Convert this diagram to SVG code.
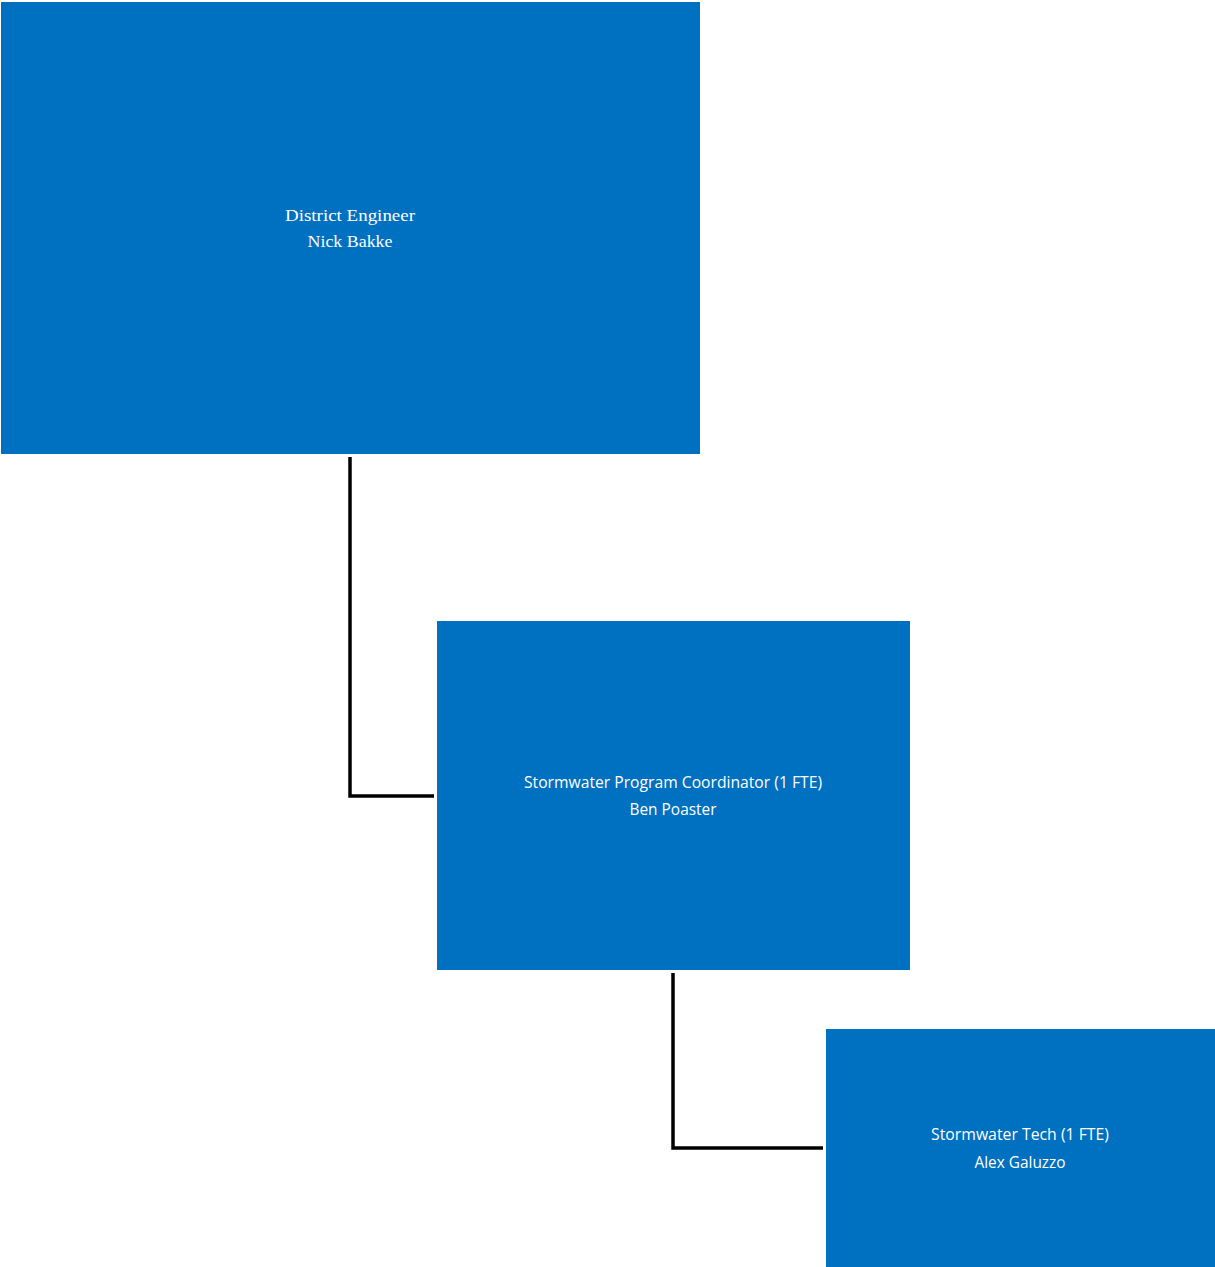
<svg xmlns="http://www.w3.org/2000/svg" width="1215" height="1267" viewBox="0 0 1215 1267">
<style>
.box{fill:#0070C0;}
.serif{font-family:"Liberation Serif","DejaVu Serif",serif;font-size:17px;fill:#fff;text-anchor:middle;}
.sans{font-family:"Open Sans","Liberation Sans",sans-serif;font-size:16px;fill:#fff;text-anchor:middle;}
.conn{fill:none;stroke:#000;stroke-width:3.5;}
</style>
<rect width="1215" height="1267" fill="#fff"/>
<g id="connectors">
<polyline class="conn" points="350,457 350,796 434,796"/>
<polyline class="conn" points="673,973 673,1148 823,1148"/>
</g>
<g id="node-district-engineer">
<rect class="box" x="1" y="2" width="699" height="452"/>
<text class="serif" x="350" y="221" textLength="130" lengthAdjust="spacingAndGlyphs">District Engineer</text>
<text class="serif" x="350" y="247" textLength="85" lengthAdjust="spacingAndGlyphs">Nick Bakke</text>
</g>
<g id="node-coordinator">
<rect class="box" x="437" y="621" width="473" height="349"/>
<text class="sans" x="673" y="788" textLength="298" lengthAdjust="spacingAndGlyphs">Stormwater Program Coordinator (1 FTE)</text>
<text class="sans" x="673" y="815" textLength="87" lengthAdjust="spacingAndGlyphs">Ben Poaster</text>
</g>
<g id="node-tech">
<rect class="box" x="826" y="1029" width="389" height="238"/>
<text class="sans" x="1020" y="1140" textLength="178" lengthAdjust="spacingAndGlyphs">Stormwater Tech (1 FTE)</text>
<text class="sans" x="1020" y="1168" textLength="91" lengthAdjust="spacingAndGlyphs">Alex Galuzzo</text>
</g>
</svg>
